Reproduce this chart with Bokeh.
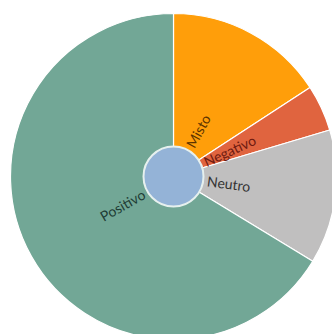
import math
from bokeh.plotting import figure
from bokeh.models import Range1d, ColumnDataSource
from bokeh.core.properties import value
from bokeh.embed import file_html
from bokeh.resources import INLINE

categories = ["Misto", "Negativo", "Neutro", "Positivo"]
values = [15.8, 4.6, 13.3, 66.3]
colors = ["#FF9E0A", "#E0643F", "#C0BFBF", "#72A796"]
text_colors = ["#5C3300", "#6E1A10", "#333333", "#1F3D35"]

W, H = 332, 334
cx, cy = 173, H - 176
R = 163
r_in = 30

total = sum(values)
starts, ends = [], []
a = math.pi / 2
for v in values:
    starts.append(a)
    a -= v / total * 2 * math.pi
    ends.append(a)

p = figure(width=W, height=H, output_backend="svg", toolbar_location=None,
           x_range=Range1d(0, W), y_range=Range1d(0, H), min_border=0)
p.axis.visible = False
p.grid.visible = False
p.outline_line_color = None
p.background_fill_color = "white"
p.border_fill_color = "white"

src = ColumnDataSource(dict(start=starts, end=ends, color=colors))
p.wedge(x=cx, y=cy, radius=R, start_angle="start", end_angle="end",
        direction="clock", fill_color="color", line_color="white",
        line_width=1.2, source=src)

p.scatter(x=[cx], y=[cy], size=2 * r_in, fill_color="#94B3D7",
          line_color="#E6F0EE", line_width=2)

lx, ly, la, lal = [], [], [], []
for s, e in zip(starts, ends):
    m = (s + e) / 2
    rr = r_in + 4
    lx.append(cx + rr * math.cos(m))
    ly.append(cy + rr * math.sin(m))
    mm = math.atan2(math.sin(m), math.cos(m))
    if abs(mm) > math.pi / 2:
        la.append(mm - math.pi)
        lal.append("right")
    else:
        la.append(mm)
        lal.append("left")

tsrc = ColumnDataSource(dict(x=lx, y=ly, t=categories, a=la, al=lal, c=text_colors))
p.text(x="x", y="y", text="t", angle="a", text_align="al", text_baseline="middle",
       text_color="c", text_font=value("Lato"), text_font_size="14px", source=tsrc)

open("out.html", "w").write(file_html(p, INLINE))
